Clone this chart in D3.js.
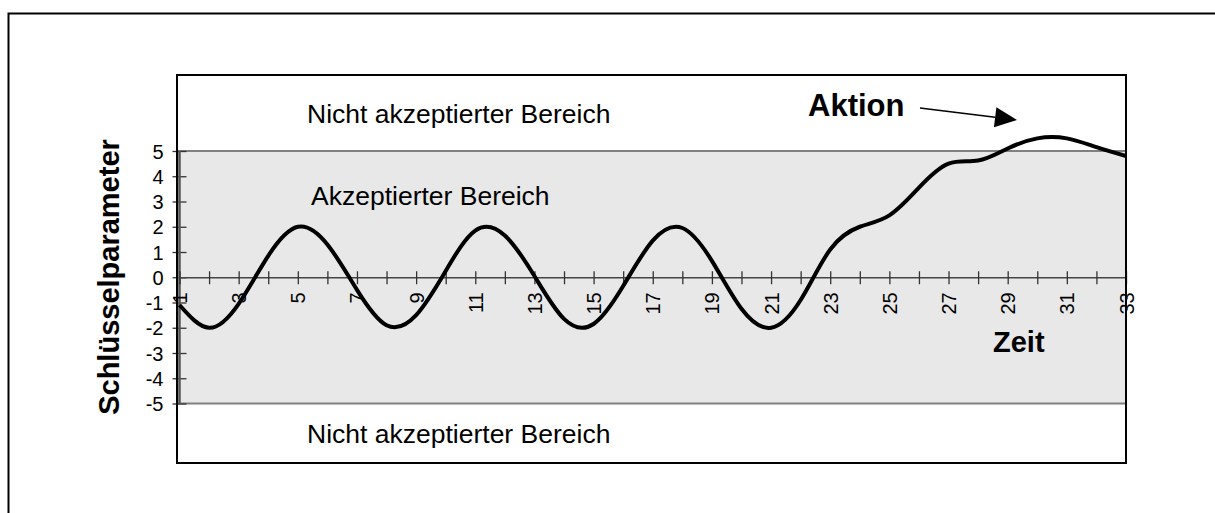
<!DOCTYPE html>
<html>
<head>
<meta charset="utf-8">
<script src="https://cdn.jsdelivr.net/npm/d3@7"></script>
<style>
  html, body { margin: 0; padding: 0; background: #fff; }
  svg { display: block; font-family: "Liberation Sans", Arial, sans-serif; }
</style>
</head>
<body>
<svg id="chart" width="1215" height="513"></svg>
<script>
// ---- data ----
const timeSteps = [1,2,3,4,5,6,7,8,9,10,11,12,13,14,15,16,17,18,19,20,21,22,23,24,25,26,27,28,29,30,31,32,33];
const keyParameter = [-1.1, -2.0, -1.05, 0.85, 2.0, 1.3, -0.5, -1.9, -1.5, 0.25, 1.85, 1.65, 0.05, -1.65, -1.85, -0.35, 1.45, 1.95, 0.65, -1.25, -2.0, -0.9, 1.1, 2.0, 2.45, 3.55, 4.5, 4.62, 5.1, 5.5, 5.5, 5.15, 4.8];
const xTickLabels = [1,3,5,7,9,11,13,15,17,19,21,23,25,27,29,31,33];
const yTickLabels = [5,4,3,2,1,0,-1,-2,-3,-4,-5];
const acceptedBand = [-5, 5];
const texts = {
  notAccepted: "Nicht akzeptierter Bereich",
  accepted: "Akzeptierter Bereich",
  action: "Aktion",
  xTitle: "Zeit",
  yTitle: "Schlüsselparameter"
};

// ---- layout ----
const svg = d3.select("#chart");
const plot = { left: 177, top: 75, right: 1126, bottom: 463 };

const x = d3.scaleLinear().domain([1, 33]).range([179.5, 1126]);
const y = d3.scaleLinear().domain([-5, 5]).range([403.5, 151]);

// outer frame
svg.append("rect")
  .attr("x", 8.5).attr("y", 13.5).attr("width", 1220).attr("height", 520)
  .attr("fill", "none").attr("stroke", "#000").attr("stroke-width", 2);

// plot frame background
svg.append("rect")
  .attr("x", plot.left).attr("y", plot.top)
  .attr("width", plot.right - plot.left).attr("height", plot.bottom - plot.top)
  .attr("fill", "#fff");

// accepted band
svg.append("rect")
  .attr("x", plot.left).attr("y", y(acceptedBand[1]))
  .attr("width", plot.right - plot.left)
  .attr("height", y(acceptedBand[0]) - y(acceptedBand[1]))
  .attr("fill", "#e8e8e8");
acceptedBand.forEach(v => {
  svg.append("line")
    .attr("x1", plot.left).attr("x2", plot.right)
    .attr("y1", y(v)).attr("y2", y(v))
    .attr("stroke", "#808080").attr("stroke-width", 2);
});

// y axis
const yAxis = d3.axisLeft(y).tickValues(yTickLabels).tickSize(0).tickPadding(0).tickFormat(d => d);
const yg = svg.append("g").attr("transform", `translate(${x(1)},0)`).call(yAxis);
yg.select(".domain").remove();
yg.selectAll(".tick line").remove();
yg.selectAll(".tick").append("line")
  .attr("x1", -7).attr("x2", 7).attr("stroke", "#333").attr("stroke-width", 1.3);
yg.selectAll(".tick text")
  .attr("x", -16).attr("dy", "0.35em")
  .attr("font-size", 20).attr("font-family", "Liberation Sans, Arial, sans-serif")
  .attr("fill", "#000");
svg.append("line")
  .attr("x1", x(1)).attr("x2", x(1)).attr("y1", y(5)).attr("y2", y(-5))
  .attr("stroke", "#555").attr("stroke-width", 2.5);

// x axis at y=0
const xAxis = d3.axisBottom(x).tickValues(timeSteps).tickSize(0).tickPadding(0)
  .tickFormat(d => xTickLabels.includes(d) ? d : "");
const xg = svg.append("g").attr("transform", `translate(0,${y(0)})`).call(xAxis);
xg.select(".domain").attr("stroke", "#444").attr("stroke-width", 1.5);
xg.selectAll(".tick line").remove();
xg.selectAll(".tick").append("line")
  .attr("y1", -6).attr("y2", 7).attr("stroke", "#333").attr("stroke-width", 1.3);
xg.selectAll(".tick text")
  .attr("text-anchor", "end")
  .attr("font-size", 20).attr("font-family", "Liberation Sans, Arial, sans-serif")
  .attr("fill", "#000")
  .attr("transform", "translate(0,15) rotate(-90)")
  .attr("x", 0).attr("y", 0).attr("dy", "0.35em");

// region labels
svg.append("text").attr("x", 307).attr("y", 123).attr("font-size", 26.5).text(texts.notAccepted);
svg.append("text").attr("x", 311).attr("y", 205).attr("font-size", 26.5).text(texts.accepted);
svg.append("text").attr("x", 307).attr("y", 443).attr("font-size", 26.5).text(texts.notAccepted);

// data line
const line = d3.line()
  .x((d, i) => x(timeSteps[i]))
  .y(d => y(d))
  .curve(d3.curveNatural);
svg.append("path")
  .datum(keyParameter)
  .attr("d", line)
  .attr("fill", "none").attr("stroke", "#000").attr("stroke-width", 4)
  .attr("stroke-linejoin", "round").attr("stroke-linecap", "butt");

// plot border (on top)
svg.append("rect")
  .attr("x", plot.left).attr("y", plot.top)
  .attr("width", plot.right - plot.left).attr("height", plot.bottom - plot.top)
  .attr("fill", "none").attr("stroke", "#000").attr("stroke-width", 2);

// axis titles
svg.append("text").attr("x", 993).attr("y", 352)
  .attr("font-size", 29).attr("font-weight", "bold").text(texts.xTitle);
svg.append("text")
  .attr("transform", "translate(119,277) rotate(-90)")
  .attr("text-anchor", "middle")
  .attr("font-size", 29).attr("font-weight", "bold").text(texts.yTitle);

// annotation
svg.append("text").attr("x", 808).attr("y", 116)
  .attr("font-size", 31).attr("font-weight", "bold").text(texts.action);
const ax1 = 920, ay1 = 108, ax2 = 1017, ay2 = 120;
const ang = Math.atan2(ay2 - ay1, ax2 - ax1);
const hl = 22, hw = 10;
const bx = ax2 - hl * Math.cos(ang), by = ay2 - hl * Math.sin(ang);
svg.append("line")
  .attr("x1", ax1).attr("y1", ay1).attr("x2", bx).attr("y2", by)
  .attr("stroke", "#000").attr("stroke-width", 1.5);
svg.append("path")
  .attr("d", `M${ax2},${ay2} L${bx - hw * Math.sin(ang)},${by + hw * Math.cos(ang)} L${bx + hw * Math.sin(ang)},${by - hw * Math.cos(ang)} Z`)
  .attr("fill", "#000");
</script>
</body>
</html>
